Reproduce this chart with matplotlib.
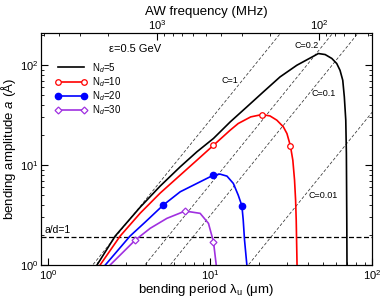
import numpy as np
import matplotlib
matplotlib.use("Agg")
import matplotlib.pyplot as plt

plt.rcParams["font.family"] = ["Liberation Sans", "DejaVu Sans"]
plt.rcParams["mathtext.fontset"] = "custom"
plt.rcParams["mathtext.rm"] = "Liberation Sans"
plt.rcParams["mathtext.it"] = "Liberation Sans:italic"
plt.rcParams["mathtext.sf"] = "Liberation Sans"

# curves: bending period (um), amplitude (A)
lam_5 = [2.0, 2.59, 3.70, 4.91, 6.53, 8.28, 10.48, 13.3, 16.85, 21.3, 27.0, 34.3, 43.4, 46.6,
         51.3, 56.4, 60.5, 63.4, 65.9, 67.4, 68.8, 69.4, 69.8, 70.0]
amp_5 = [1.0, 1.95, 3.80, 6.17, 9.62, 13.6, 18.5, 27.1, 38.3, 54.1, 76.4, 100.0, 123.0, 131.0,
         128.0, 117.0, 104.0, 89.0, 70.8, 48.2, 28.2, 13.1, 2.8, 1.0]

lam_10 = [2.09, 2.78, 3.70, 4.91, 6.53, 8.28, 10.48, 13.3, 14.9, 17.8, 20.9, 23.4, 25.8, 28.3,
          29.8, 31.3, 32.4, 33.2, 33.7, 34.0, 34.4]
amp_10 = [1.0, 1.95, 3.31, 5.25, 7.94, 11.2, 15.8, 22.4, 26.1, 30.4, 32.1, 31.1, 28.2, 24.2,
          20.7, 15.6, 11.2, 7.08, 4.47, 2.82, 1.0]
mk_lam_10 = [10.48, 20.9, 31.3]
mk_amp_10 = [15.8, 32.1, 15.6]

lam_20 = [2.25, 3.2, 3.97, 5.13, 6.53, 8.28, 10.48, 11.5, 12.7, 13.9, 14.9, 15.7, 16.0, 16.3, 16.85]
amp_20 = [1.0, 1.95, 2.69, 3.98, 5.41, 6.56, 7.94, 8.13, 7.76, 6.56, 5.01, 3.92, 2.82, 1.78, 1.0]
mk_lam_20 = [5.13, 10.48, 15.7]
mk_amp_20 = [3.98, 7.94, 3.92]

lam_30 = [2.41, 3.45, 4.26, 5.40, 7.0, 8.67, 9.76, 10.48, 10.9]
amp_30 = [1.0, 1.78, 2.33, 2.93, 3.47, 3.29, 2.61, 1.71, 1.0]
mk_lam_30 = [3.45, 7.0, 10.48]
mk_amp_30 = [1.78, 3.47, 1.71]

# constant-C lines: period where each line meets a = 1 A
c_labels = ["C=1", "C=0.2", "C=0.1", "C=0.01"]
c_lam0 = [1.88, 3.95, 5.66, 17.2]
c_text_lam = [13.3, 39.6, 49.9, 49.9]
c_text_amp = [70.8, 158.0, 52.5, 5.0]

d_spacing = 1.92          # a/d = 1
sound_speed = 4690.0      # f(MHz) * lambda(um)
xlim = (0.9, 100)

fig = plt.figure(figsize=(3.82, 3.02), dpi=100)
ax = fig.add_axes([0.107, 0.1225, 0.867, 0.768])
ax.set_xscale("log")
ax.set_yscale("log")
ax.set_xlim(*xlim)
ax.set_ylim(1, 210)

lam_grid = np.logspace(-0.1, 2.1, 50)
for lam0 in c_lam0:
    ax.plot(lam_grid, (lam_grid / lam0) ** 2, ls=(0, (4, 2.5)), color="#333333", lw=0.55)
for lab, tx, ty in zip(c_labels, c_text_lam, c_text_amp):
    ax.text(tx, ty, lab, fontsize=6.5, ha="center", va="center")

ax.axhline(d_spacing, ls=(0, (4, 2)), color="black", lw=0.9)
ax.text(0.95, d_spacing * 1.05, "a/d=1", fontsize=7.5, ha="left", va="bottom")

purple = "#a030e0"
ax.plot(lam_5, amp_5, color="black", lw=1.2)
ax.plot(lam_10, amp_10, color="red", lw=1.2)
ax.plot(mk_lam_10, mk_amp_10, "o", color="red", mfc="white", ms=4, mew=0.9)
ax.plot(lam_20, amp_20, color="blue", lw=1.2)
ax.plot(mk_lam_20, mk_amp_20, "o", color="blue", ms=4.5)
ax.plot(lam_30, amp_30, color=purple, lw=1.2)
ax.plot(mk_lam_30, mk_amp_30, "D", color=purple, mfc="white", ms=3.5, mew=0.9)

# legend handles
h = [
    plt.Line2D([], [], color="black", lw=1.2),
    plt.Line2D([], [], color="red", lw=1.2, marker="o", mfc="white", ms=4, mew=0.9),
    plt.Line2D([], [], color="blue", lw=1.2, marker="o", ms=4.5),
    plt.Line2D([], [], color=purple, lw=1.2, marker="D", mfc="white", ms=3.5, mew=0.9),
]
ax.legend(h, ["N$_d$=5", "N$_d$=10", "N$_d$=20", "N$_d$=30"], loc="upper left",
          bbox_to_anchor=(0.015, 0.918), frameon=False, fontsize=7, handlelength=3.3,
          handletextpad=0.5, labelspacing=0.05, numpoints=2)

ax.text(3.45, 145, "ε=0.5 GeV", fontsize=8, ha="center", va="center")

ax.set_xlabel("bending period λ$_\\mathrm{u}$ (μm)", fontsize=9.5, labelpad=0)
ax.set_ylabel("bending amplitude $a$ (Å)", fontsize=9.5, labelpad=1)
ax.tick_params(which="both", direction="in", labelsize=8, right=True, top=False, pad=2)
ax.tick_params(which="major", length=5)
ax.tick_params(which="minor", length=2.5)

top = ax.twiny()
top.set_xscale("log")
top.set_xlim(sound_speed / xlim[0], sound_speed / xlim[1])
top.tick_params(which="both", direction="in", labelsize=8, pad=1)
top.tick_params(which="major", length=5)
top.tick_params(which="minor", length=2.5)
top.set_xlabel("AW frequency (MHz)", fontsize=9.5, labelpad=2)

fig.savefig("out.png", dpi=100)
